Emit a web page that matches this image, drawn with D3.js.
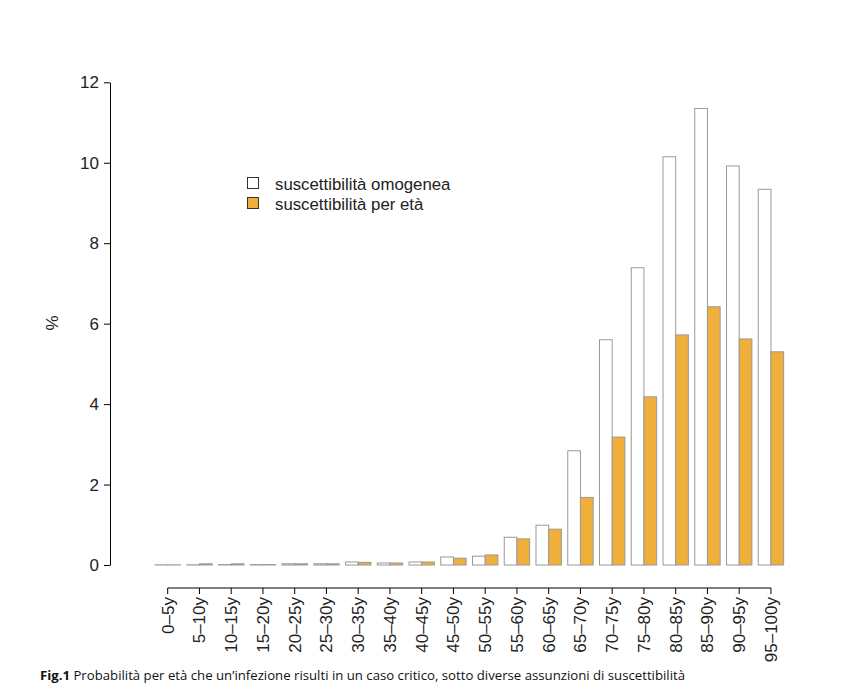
<!DOCTYPE html>
<html><head><meta charset="utf-8">
<script src="https://cdn.jsdelivr.net/npm/d3@7/dist/d3.min.js"></script>
<style>body{margin:0;background:#fff}svg{display:block}</style>
</head><body>
<svg id="c" width="866" height="683"></svg>
<script>
const categories = ["0\u20135y","5\u201310y","10\u201315y","15\u201320y","20\u201325y","25\u201330y","30\u201335y","35\u201340y","40\u201345y","45\u201350y","50\u201355y","55\u201360y","60\u201365y","65\u201370y","70\u201375y","75\u201380y","80\u201385y","85\u201390y","90\u201395y","95\u2013100y"];
const omogenea = [0.005,0.005,0.01,0.01,0.03,0.03,0.075,0.05,0.075,0.2,0.22,0.69,0.99,2.84,5.6,7.39,10.15,11.35,9.92,9.34];
const perEta   = [0.004,0.03,0.03,0.01,0.03,0.03,0.065,0.05,0.075,0.17,0.25,0.65,0.89,1.68,3.18,4.18,5.72,6.42,5.62,5.3];
const yTicks = [0,2,4,6,8,10,12];
const seriesNames = ["suscettibilità omogenea","suscettibilità per età"];
const seriesColors = ["#ffffff","#efaf3a"];

const svg = d3.select("#c");
const font = "'Liberation Sans', Arial, sans-serif";
const y = d3.scaleLinear().domain([0,12]).range([565,82.3]);
const step = 31.75, bw = 12.7;
const x = d3.scaleBand().domain(categories)
  .range([167.7 - step/2, 167.7 + step*(categories.length-0.5)]).padding(0);
const cx = c => x(c) + x.bandwidth()/2;

// bars
const g = svg.append("g");
categories.forEach((c,i)=>{
  [omogenea[i], perEta[i]].forEach((v,k)=>{
    g.append("rect")
      .attr("x", cx(c) - bw + k*bw).attr("width", bw)
      .attr("y", y(v)).attr("height", y(0)-y(v))
      .attr("fill", seriesColors[k]).attr("stroke","#999").attr("stroke-width",1);
  });
});

// y axis
const ya = svg.append("g").attr("transform","translate(110,0)")
  .call(d3.axisLeft(y).tickValues(yTicks).tickSize(6).tickPadding(5).tickSizeOuter(0));
ya.select(".domain").attr("stroke","#000");
ya.selectAll(".tick line").attr("stroke","#000");
ya.selectAll("text").attr("font-family",font).attr("font-size","17px").attr("fill","#222");

// x axis
const xa = svg.append("g").attr("transform","translate(0,588)");
xa.append("line").attr("x1",cx(categories[0])).attr("x2",cx(categories[categories.length-1]))
  .attr("stroke","#000");
categories.forEach(c=>{
  xa.append("line").attr("x1",cx(c)).attr("x2",cx(c)).attr("y1",0).attr("y2",6).attr("stroke","#000");
  xa.append("text").attr("transform",`translate(${cx(c)+6},9) rotate(-90)`)
    .attr("text-anchor","end").attr("font-family",font).attr("font-size","17px").attr("fill","#222")
    .text(c);
});

// y label
svg.append("text").attr("transform","translate(58,323) rotate(-90)")
  .attr("text-anchor","middle").attr("font-family",font).attr("font-size","17px").attr("fill","#222").text("%");

// legend
seriesNames.forEach((n,k)=>{
  svg.append("rect").attr("x",247.5).attr("y",177.5+k*20).attr("width",11).attr("height",11)
    .attr("fill",seriesColors[k]).attr("stroke","#333").attr("stroke-width",1);
  svg.append("text").attr("x",275).attr("y",189.5+k*20).attr("font-family",font).attr("font-size","16.8px")
    .attr("fill","#222").text(n);
});

// caption
const cap = svg.append("text").attr("x",40).attr("y",680).attr("font-family","'Open Sans', sans-serif")
  .attr("font-size","13.2px").attr("fill","#111");
cap.append("tspan").attr("font-weight","bold").text("Fig.1");
cap.append("tspan").text(" Probabilità per età che un’infezione risulti in un caso critico, sotto diverse assunzioni di suscettibilità");
</script>
</body></html>
